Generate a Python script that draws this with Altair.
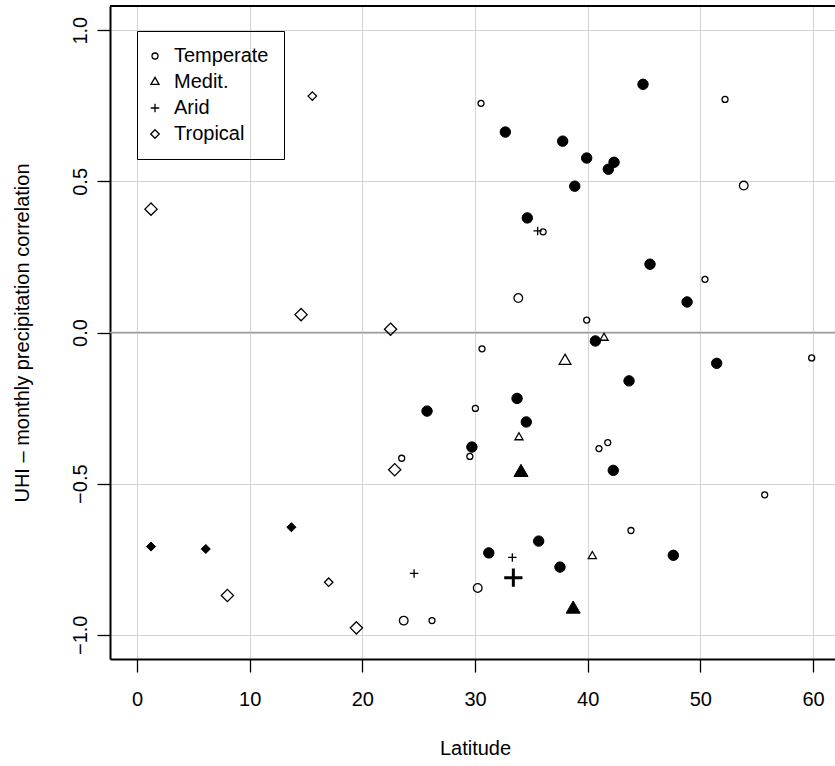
import altair as alt
import pandas as pd

FONT = "Liberation Sans"
CLIMATES = ["Temperate", "Medit.", "Arid", "Tropical"]

# ---- data (latitude, UHI-precip correlation) ----
temp_small_lat = [30.53, 52.19, 36.04, 50.41, 39.91, 30.62, 59.88, 30.03, 29.54, 41.00, 41.78, 55.71, 43.84, 23.49, 26.18]
temp_small_cor = [0.758, 0.771, 0.333, 0.176, 0.041, -0.054, -0.084, -0.251, -0.410, -0.384, -0.364, -0.537, -0.655, -0.416, -0.953]

temp_large_lat = [53.85, 33.84, 30.24, 23.67]
temp_large_cor = [0.486, 0.114, -0.845, -0.953]

temp_filled_lat = [32.69, 44.91, 37.78, 39.91, 42.34, 41.83, 38.85, 34.64, 45.53, 48.82, 40.68,
                   51.45, 43.67, 33.73, 34.55, 29.72, 42.27, 25.74, 35.65, 31.22, 47.60, 37.54]
temp_filled_cor = [0.663, 0.821, 0.633, 0.577, 0.563, 0.540, 0.484, 0.379, 0.226, 0.101, -0.028,
                   -0.102, -0.160, -0.218, -0.296, -0.379, -0.456, -0.260, -0.690, -0.729, -0.737, -0.776]

med_small_lat = [41.45, 33.90, 40.41]
med_small_cor = [-0.018, -0.347, -0.740]
med_large_lat = [37.99]
med_large_cor = [-0.094]
med_filled_lat = [34.08, 38.71]
med_filled_cor = [-0.463, -0.915]

arid_small_lat = [35.56, 33.31, 24.59]
arid_small_cor = [0.336, -0.744, -0.797]
arid_filled_lat = [33.40]
arid_filled_cor = [-0.811]

trop_small_lat = [15.56, 17.01]
trop_small_cor = [0.782, -0.826]
trop_large_lat = [1.24, 14.56, 22.50, 22.87, 8.02, 19.47]
trop_large_cor = [0.408, 0.059, 0.011, -0.454, -0.870, -0.977]
trop_filled_lat = [1.24, 6.10, 13.70]
trop_filled_cor = [-0.708, -0.716, -0.644]

groups = [
    ("Temperate", "small", temp_small_lat, temp_small_cor),
    ("Temperate", "large", temp_large_lat, temp_large_cor),
    ("Temperate", "filled", temp_filled_lat, temp_filled_cor),
    ("Medit.", "small", med_small_lat, med_small_cor),
    ("Medit.", "large", med_large_lat, med_large_cor),
    ("Medit.", "filled", med_filled_lat, med_filled_cor),
    ("Arid", "small", arid_small_lat, arid_small_cor),
    ("Arid", "filled", arid_filled_lat, arid_filled_cor),
    ("Tropical", "small", trop_small_lat, trop_small_cor),
    ("Tropical", "large", trop_large_lat, trop_large_cor),
    ("Tropical", "filled", trop_filled_lat, trop_filled_cor),
]
rows = []
for clim, kind, lats, cors in groups:
    for la, co in zip(lats, cors):
        rows.append({"lat": la, "corr": co, "clim": clim, "kind": kind})
df = pd.DataFrame(rows)
zero_line = pd.DataFrame({"corr": [0.0]})

x_ticks = [0, 10, 20, 30, 40, 50, 60]
y_ticks = [-1.0, -0.5, 0.0, 0.5, 1.0]

W, H = 725, 653

# symbol paths (R-like proportions)
open_paths = [
    "M0.707,0A0.707,0.707,0,1,1,-0.707,0A0.707,0.707,0,1,1,0.707,0Z",
    "M0,-1.1L0.952,0.55L-0.952,0.55Z",
    "M-1,0L1,0M0,-1L0,1",
    "M0,-1L1,0L0,1L-1,0Z",
]
filled_paths = [
    "M0.8,0A0.8,0.8,0,1,1,-0.8,0A0.8,0.8,0,1,1,0.8,0Z",
    "M0,-1.25L1.08,0.62L-1.08,0.62Z",
    "M-1.4,0L1.4,0M0,-1.4L0,1.4",
    "M0,-0.7L0.7,0L0,0.7L-0.7,0Z",
]

x_scale = alt.Scale(domain=[-2.4, 61.95], nice=False, zero=False)
y_scale = alt.Scale(domain=[-1.08, 1.08], nice=False, zero=False)

x_axis = alt.Axis(
    values=x_ticks, format="d", grid=True, gridColor="#d3d3d3", gridWidth=1,
    tickSize=13, tickColor="black", tickWidth=1.3,
    domainColor="black", domainWidth=2,
    labelFont=FONT, labelFontSize=20, labelColor="black", labelPadding=17,
    labelFlush=False, labelOverlap=False,
    title="Latitude", titleFont=FONT, titleFontSize=20, titleFontWeight="normal",
    titleColor="black", titleX=365, titleY=89, titleAlign="center", titleBaseline="middle",
)
y_axis = alt.Axis(
    values=y_ticks, format=".1f", grid=True, gridColor="#d3d3d3", gridWidth=1,
    tickSize=13, tickColor="black", tickWidth=1.3,
    domainColor="black", domainWidth=2,
    labelFont=FONT, labelFontSize=20, labelColor="black", labelPadding=17,
    labelAngle=270, labelAlign="center", labelBaseline="middle",
    labelFlush=False, labelOverlap=False,
    title="UHI \u2013 monthly precipitation correlation", titleFont=FONT, titleFontSize=20,
    titleFontWeight="normal", titleColor="black", titleAngle=270,
    titleX=-88, titleY=H / 2, titleAlign="center", titleBaseline="middle",
)

X = alt.X("lat:Q", scale=x_scale, axis=x_axis)
Y = alt.Y("corr:Q", scale=y_scale, axis=y_axis)

zero = alt.Chart(zero_line).mark_rule(color="#9e9e9e", strokeWidth=1.3).encode(
    y=alt.Y("corr:Q", scale=y_scale, axis=y_axis)
)

small = alt.Chart(df).transform_filter(alt.datum.kind == "small").mark_point(
    filled=False, color="black", strokeWidth=1.3, opacity=1, size=72
).encode(
    x=X, y=Y,
    shape=alt.Shape(
        "clim:N",
        scale=alt.Scale(domain=CLIMATES, range=open_paths),
        legend=alt.Legend(
            title=None, orient="none", legendX=27, legendY=25,
            strokeColor="black", padding=15, rowPadding=6,
            symbolSize=72, symbolStrokeWidth=1.3, symbolStrokeColor="black",
            symbolFillColor="transparent", symbolOpacity=1, symbolOffset=-7,
            labelFont=FONT, labelFontSize=20, labelColor="black", labelOffset=9,
            labelLimit=0,
        ),
    ),
)

large = alt.Chart(df).transform_filter(alt.datum.kind == "large").mark_point(
    filled=False, color="black", strokeWidth=1.3, opacity=1, size=150
).encode(
    x=X, y=Y,
    shape=alt.Shape("clim:N", scale=alt.Scale(domain=CLIMATES, range=open_paths), legend=None),
)

filled = alt.Chart(df).transform_filter(alt.datum.kind == "filled").mark_point(
    filled=True, fill="black", stroke="black", opacity=1, size=170
).encode(
    x=X, y=Y,
    shape=alt.Shape("clim:N", scale=alt.Scale(domain=CLIMATES, range=filled_paths), legend=None),
    strokeWidth=alt.condition(alt.datum.clim == "Arid", alt.value(3), alt.value(1)),
)

top_frame = alt.Chart(zero_line).mark_rule(color="black", strokeWidth=2).encode(
    x=alt.value(0), x2=alt.value(W), y=alt.value(0)
)

chart = alt.layer(zero, small, large, filled, top_frame).resolve_scale(
    shape="independent"
).properties(
    width=W, height=H,
    autosize=alt.AutoSizeParams(type="none"),
    padding={"left": 110, "top": 6, "right": 0, "bottom": 100},
    background="white",
).configure_view(stroke=None)

chart.save("out.html", embed_options={"renderer": "svg", "actions": False})
